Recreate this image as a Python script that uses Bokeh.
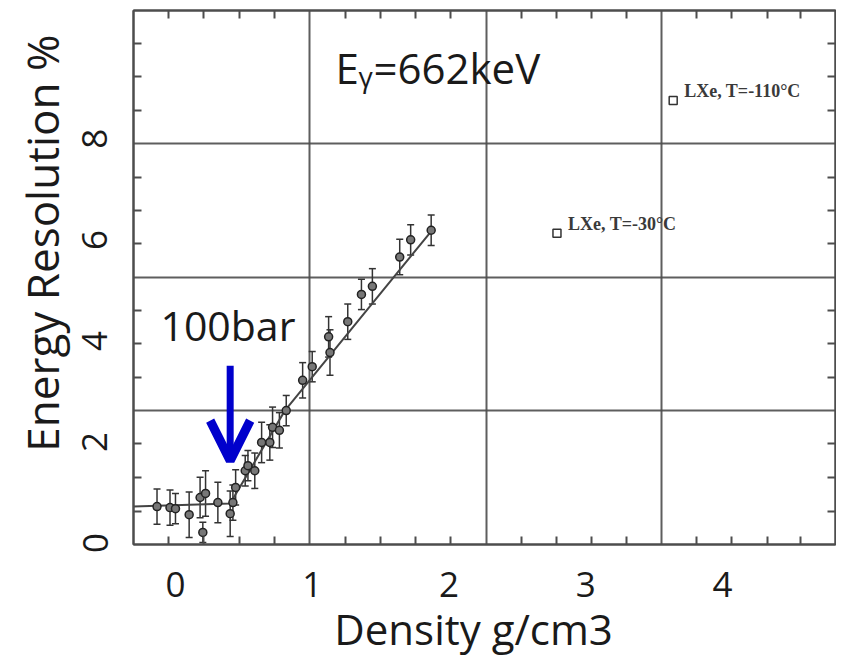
from bokeh.plotting import figure
from bokeh.models import (FixedTicker, LinearAxis, Whisker, TeeHead, Arrow, OpenHead,
                          Label, ColumnDataSource, Range1d)
from bokeh.embed import file_html
from bokeh.resources import INLINE

# ---- data ----
density = [-0.135, -0.04, 0.00, 0.10, 0.20, 0.18, 0.22, 0.31, 0.40, 0.42, 0.44, 0.51, 0.53, 0.58,
           0.63, 0.69, 0.71, 0.76, 0.81, 0.93, 1.00, 1.12, 1.13, 1.26, 1.36, 1.44, 1.64, 1.72, 1.87]
resolution = [0.72, 0.70, 0.68, 0.56, 0.21, 0.90, 0.98, 0.80, 0.58, 0.80, 1.10, 1.43, 1.53, 1.43,
              1.99, 1.99, 2.29, 2.23, 2.62, 3.22, 3.49, 4.08, 3.77, 4.38, 4.92, 5.08, 5.66, 6.00, 6.19]
res_err = [0.35, 0.35, 0.30, 0.45, 0.20, 0.40, 0.45, 0.40, 0.45, 0.35, 0.35, 0.30, 0.30, 0.35,
           0.40, 0.35, 0.40, 0.35, 0.30, 0.35, 0.30, 0.40, 0.45, 0.35, 0.30, 0.35, 0.35, 0.30, 0.30]

fit_x = [-0.307, 0.40, 0.80, 1.87]
fit_y = [0.72, 0.78, 2.62, 6.17]

lxe_x = [3.64, 2.79]
lxe_y = [8.76, 6.13]
lxe_labels = ["LXe, T=-110°C", "LXe, T=-30°C"]

x_ticks = [0, 1, 2, 3, 4]
y_ticks = [0, 2, 4, 6, 8]

# scanned-frame grid and minor ticks
grid_x = [0.982, 2.271, 3.553]
grid_y = [2.62, 5.255, 7.91]
minor_x = [-0.05, 0.208, 0.465, 0.722, 1.24, 1.497, 1.755, 2.012, 2.53, 2.788, 3.046, 3.30,
           3.81, 4.07, 4.33, 4.57]
minor_y = [0.63, 1.29, 1.96, 3.28, 3.94, 4.60, 5.92, 6.58, 7.24, 8.57, 9.23, 9.89]

FONT = "Open Sans"
TXT = "#1a1a1a"
SCAN = "#4d4d4d"
NB = "\u00a0"

p = figure(frame_width=702, frame_height=534,
           x_range=Range1d(-0.307, 4.827), y_range=Range1d(-0.03, 10.54),
           output_backend="svg", toolbar_location=None,
           min_border_left=133, min_border_right=1, min_border_top=10, min_border_bottom=10,
           x_axis_label="Density g/cm3" + NB * 2,
           y_axis_label=NB * 6 + "Energy Resolution %")
p.background_fill_color = "white"
p.outline_line_color = SCAN
p.outline_line_width = 2

# grid of the scanned figure
p.xgrid.ticker = FixedTicker(ticks=grid_x)
p.ygrid.ticker = FixedTicker(ticks=grid_y)
for g in (p.xgrid, p.ygrid):
    g.grid_line_color = SCAN
    g.grid_line_width = 2
    g.grid_line_alpha = 0.9

def style_axis(ax, ticks, minor, labels=True):
    ax.ticker = FixedTicker(ticks=ticks if labels else [], minor_ticks=minor)
    ax.major_tick_in = 0
    ax.major_tick_out = 0
    ax.minor_tick_in = 8
    ax.minor_tick_out = 0
    ax.minor_tick_line_color = SCAN
    ax.minor_tick_line_width = 2
    ax.axis_line_color = SCAN
    ax.axis_line_width = 2
    if labels:
        ax.major_label_text_font = FONT
        ax.major_label_text_font_size = "35px"
        ax.major_label_text_color = TXT
        ax.axis_label_text_font = FONT
        ax.axis_label_text_font_size = "44px"
        ax.axis_label_text_font_style = "normal"
        ax.axis_label_text_color = TXT
    else:
        ax.major_label_standoff = 0

xa = p.xaxis[0]
ya = p.yaxis[0]
style_axis(xa, x_ticks, minor_x)
style_axis(ya, y_ticks, minor_y)
xa.major_label_standoff = 27
xa.axis_label_standoff = 0
xa.axis_label_text_font_size = "42px"
ya.major_label_orientation = "vertical"
ya.major_label_standoff = 26
ya.axis_label_standoff = 8

top = LinearAxis()
right = LinearAxis()
style_axis(top, x_ticks, minor_x, labels=False)
style_axis(right, y_ticks, minor_y, labels=False)
p.add_layout(top, "above")
p.add_layout(right, "right")

# data
src = ColumnDataSource(dict(x=density, y=resolution,
                            upper=[v + e for v, e in zip(resolution, res_err)],
                            lower=[v - e for v, e in zip(resolution, res_err)]))
p.add_layout(Whisker(source=src, base="x", upper="upper", lower="lower", dimension="height",
                     line_color="#333333", line_width=1.5,
                     upper_head=TeeHead(size=7, line_color="#333333", line_width=1.5),
                     lower_head=TeeHead(size=7, line_color="#333333", line_width=1.5)))
p.line(fit_x, fit_y, line_color="#444444", line_width=2)
p.scatter("x", "y", source=src, marker="circle", size=8, line_color="#222222",
          fill_color="#777777", line_width=1.5)

# LXe points with their scanned labels
p.scatter(lxe_x, lxe_y, marker="square", size=8, line_color="#333333",
          fill_color="white", line_width=1.5)
for xx, yy, t in zip(lxe_x, lxe_y, lxe_labels):
    p.add_layout(Label(x=xx, y=yy, text=t, x_offset=11, y_offset=9,
                       text_font="Liberation Serif", text_font_size="18px",
                       text_font_style="bold", text_color="#3a3a3a",
                       text_baseline="middle"))

# overlay annotations
p.add_layout(Label(x=1.17, y=9.42, text="E", text_font=FONT, text_font_size="42px",
                   text_color=TXT, text_baseline="alphabetic"))
p.add_layout(Label(x=1.17, y=9.24, text="γ", x_offset=23, text_font=FONT,
                   text_font_size="28px", text_color=TXT, text_baseline="alphabetic"))
p.add_layout(Label(x=1.17, y=9.42, text="=662keV", x_offset=38, text_font=FONT,
                   text_font_size="42px", text_color=TXT, text_baseline="alphabetic"))
p.add_layout(Label(x=-0.11, y=4.31, text="100bar", text_font=FONT, text_font_size="41px",
                   text_color=TXT, text_baseline="alphabetic"))

p.add_layout(Arrow(end=OpenHead(size=40, line_color="#0000CC", line_width=9),
                   x_start=0.40, y_start=3.51, x_end=0.40, y_end=1.63,
                   line_color="#0000CC", line_width=7))

open("out.html", "w").write(file_html(p, INLINE))
